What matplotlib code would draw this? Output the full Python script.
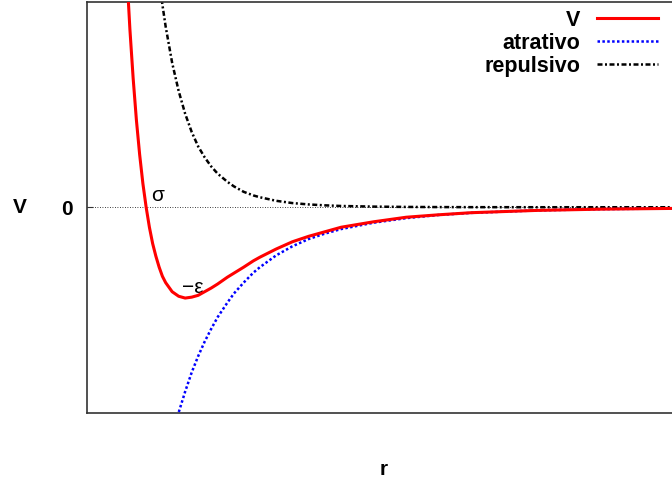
import matplotlib
matplotlib.use("Agg")
import matplotlib.pyplot as plt

plt.rcParams['font.family'] = ['Liberation Sans', 'DejaVu Sans']

# Valores (r em unidades de sigma, V em unidades de epsilon)
r = [0.93, 0.94, 0.95, 0.96, 0.97, 0.98, 0.99, 1.00, 1.01, 1.02, 1.03,
     1.04, 1.05, 1.06, 1.08, 1.10, 1.12, 1.14, 1.16, 1.18, 1.20, 1.22,
     1.25, 1.27, 1.30, 1.33, 1.35, 1.40, 1.45, 1.50, 1.55, 1.60, 1.70,
     1.80, 1.90, 2.00, 2.20, 2.40, 2.70]
V = [3.37, 2.61, 1.96, 1.42, 0.96, 0.58, 0.26, 0.0, -0.22, -0.40, -0.54,
     -0.66, -0.76, -0.83, -0.93, -0.98, -1.00, -0.99, -0.97, -0.93, -0.89,
     -0.845, -0.77, -0.726, -0.66, -0.59, -0.55, -0.46, -0.38, -0.32,
     -0.27, -0.22, -0.16, -0.11, -0.083, -0.06, -0.035, -0.021, -0.010]
atrativo = [-6.18, -5.80, -5.44, -5.11, -4.80, -4.52, -4.25, -4.00, -3.77,
            -3.55, -3.35, -3.16, -2.98, -2.82, -2.52, -2.26, -2.03, -1.82,
            -1.64, -1.48, -1.34, -1.21, -1.05, -0.95, -0.83, -0.72, -0.66,
            -0.53, -0.43, -0.35, -0.29, -0.24, -0.17, -0.12, -0.085, -0.062,
            -0.035, -0.021, -0.010]
repulsivo = [9.56, 8.41, 7.40, 6.53, 5.76, 5.10, 4.51, 4.00, 3.55, 3.15,
             2.81, 2.50, 2.23, 1.99, 1.59, 1.28, 1.03, 0.83, 0.67, 0.55,
             0.45, 0.37, 0.28, 0.23, 0.17, 0.13, 0.11, 0.071, 0.046, 0.031,
             0.021, 0.014, 0.007, 0.0035, 0.0018, 0.001, 0.0003, 0.0001, 0.0]

fig = plt.figure(figsize=(6.72, 4.82), dpi=100)
ax = fig.add_axes([87 / 672, 69.5 / 482, 585 / 672, 410.5 / 482])

ax.axhline(0, color='black', lw=0.6, ls=(0, (1, 2)), zorder=1)
ax.plot(r, V, color='#ff0000', lw=2.2, label='V', zorder=4)
ax.plot(r, atrativo, color='#0000ff', lw=1.8, ls=(0, (1, 0.95)),
        label='atrativo', zorder=3)
ax.plot(r, repulsivo, color='black', lw=1.8, ls=(0, (2.0, 1.0, 0.8, 1.0)),
        label='repulsivo', zorder=2)

ax.set_xlim(0.818, 2.618)
ax.set_ylim(-2.26, 2.26)

for s in ['left', 'bottom', 'top']:
    ax.spines[s].set_color('#333333')
    ax.spines[s].set_linewidth(1.2)
ax.spines['right'].set_visible(False)

ax.set_xticks([])
ax.set_yticks([0])
ax.set_yticklabels(['0'], fontsize=15, fontweight='bold')
ax.tick_params(axis='y', direction='in', length=4, pad=10, color='#333333')

ax.set_ylabel('V', fontsize=15, fontweight='bold', rotation=0, va='center')
ax.yaxis.set_label_coords(-0.1145, 0.5)
ax.set_xlabel('r', fontsize=15, fontweight='bold', va='center')
ax.xaxis.set_label_coords(0.508, -0.14)

ax.text(1.034, 0.13, 'σ', fontsize=15, ha='center', va='center')
ax.text(1.145, -0.88, '−ε', fontsize=15, ha='center', va='center')

ax.legend(loc='upper right', bbox_to_anchor=(658 / 672, (482 - 9.5) / 482),
          bbox_transform=fig.transFigure, frameon=False, markerfirst=False,
          prop={'size': 15.5, 'weight': 'bold'}, handlelength=2.85,
          handletextpad=0.75, labelspacing=0.1, borderpad=0, borderaxespad=0)

fig.savefig('out.png', dpi=100)
